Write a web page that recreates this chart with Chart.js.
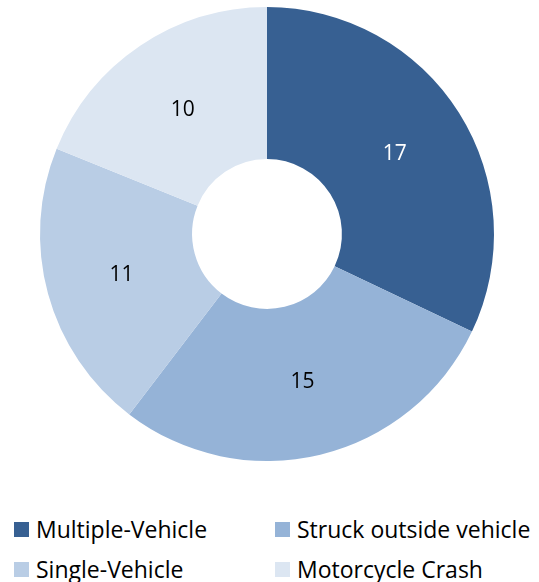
<!DOCTYPE html>
<html>
<head>
<meta charset="utf-8">
<script src="https://cdn.jsdelivr.net/npm/chart.js@4"></script>
<style>
  html, body { margin: 0; padding: 0; background: #fff; }
  body { width: 539px; height: 582px; position: relative; overflow: hidden; font-family: "Open Sans", Lato, sans-serif; }
  #wrap { position: absolute; left: 0; top: 0; width: 539px; height: 470px; }
  #legend { position: absolute; left: 14px; top: 516px; width: 525px; display: grid; grid-template-columns: 261px 250px; row-gap: 14px; font-size: 23px; color: #000; }
  .item { display: flex; align-items: center; height: 26px; white-space: nowrap; }
  .sw { width: 15px; height: 15px; margin-right: 7px; flex: none; }
</style>
</head>
<body>
<div id="wrap"><canvas id="c"></canvas></div>
<div id="legend"></div>
<script>
const categories = ["Multiple-Vehicle", "Struck outside vehicle", "Single-Vehicle", "Motorcycle Crash"];
const values = [17, 15, 11, 10];
const colors = ["#376092", "#95B3D7", "#B9CDE5", "#DCE6F2"];
const labelColors = ["#ffffff", "#000000", "#000000", "#000000"];

const valueLabels = {
  id: 'valueLabels',
  afterDatasetsDraw(chart) {
    const ctx = chart.ctx;
    const meta = chart.getDatasetMeta(0);
    ctx.save();
    ctx.font = '21px "Open Sans", Lato, sans-serif';
    ctx.textAlign = 'center';
    ctx.textBaseline = 'middle';
    meta.data.forEach((arc, i) => {
      const p = arc.tooltipPosition();
      ctx.fillStyle = labelColors[i];
      ctx.fillText(String(values[i]), p.x, p.y + 1);
    });
    ctx.restore();
  }
};

new Chart(document.getElementById('c'), {
  type: 'doughnut',
  data: {
    labels: categories,
    datasets: [{ data: values, backgroundColor: colors, borderWidth: 0, hoverOffset: 0 }]
  },
  options: {
    responsive: true,
    maintainAspectRatio: false,
    animation: false,
    cutout: '33%',
    layout: { padding: { top: 7, bottom: 9, left: 0, right: 5 } },
    plugins: { legend: { display: false }, tooltip: { enabled: false } }
  },
  plugins: [valueLabels]
});

const lg = document.getElementById('legend');
categories.forEach((name, i) => {
  const d = document.createElement('div');
  d.className = 'item';
  const s = document.createElement('span');
  s.className = 'sw';
  s.style.background = colors[i];
  const t = document.createElement('span');
  t.textContent = name;
  d.appendChild(s); d.appendChild(t);
  lg.appendChild(d);
});
</script>
</body>
</html>
